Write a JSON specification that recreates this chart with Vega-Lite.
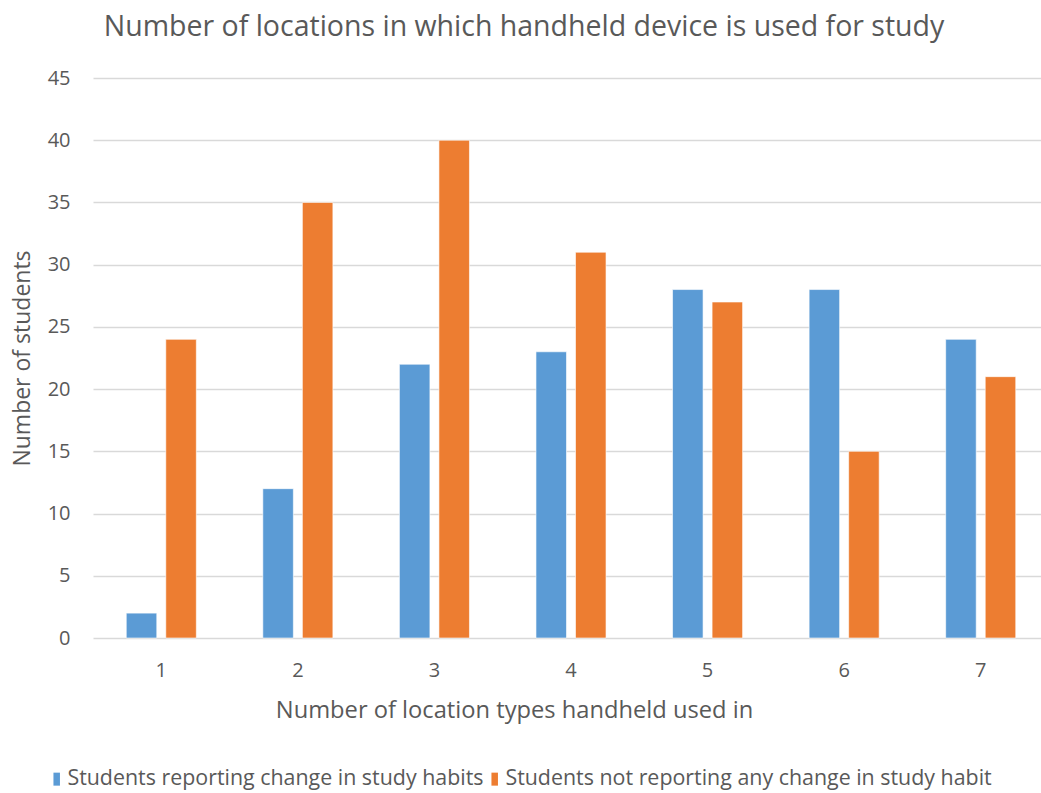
{
  "$schema": "https://vega.github.io/schema/vega-lite/v6.json",
  "autosize": "none",
  "width": 948,
  "height": 560,
  "padding": {"left": 93, "top": 78, "right": 0, "bottom": 155},
  "background": "white",
  "config": {"view": {"stroke": null}, "font": "Open Sans"},
  "title": {
    "text": "Number of locations in which handheld device is used for study",
    "fontSize": 28.5,
    "fontWeight": "normal",
    "color": "#595959",
    "anchor": "middle",
    "frame": "group",
    "dx": -43,
    "offset": 27
  },
  "data": {
    "values": [
      {"n": 1, "series": "Students reporting change in study habits", "value": 2},
      {"n": 1, "series": "Students not reporting any change in study habit", "value": 24},
      {"n": 2, "series": "Students reporting change in study habits", "value": 12},
      {"n": 2, "series": "Students not reporting any change in study habit", "value": 35},
      {"n": 3, "series": "Students reporting change in study habits", "value": 22},
      {"n": 3, "series": "Students not reporting any change in study habit", "value": 40},
      {"n": 4, "series": "Students reporting change in study habits", "value": 23},
      {"n": 4, "series": "Students not reporting any change in study habit", "value": 31},
      {"n": 5, "series": "Students reporting change in study habits", "value": 28},
      {"n": 5, "series": "Students not reporting any change in study habit", "value": 27},
      {"n": 6, "series": "Students reporting change in study habits", "value": 28},
      {"n": 6, "series": "Students not reporting any change in study habit", "value": 15},
      {"n": 7, "series": "Students reporting change in study habits", "value": 24},
      {"n": 7, "series": "Students not reporting any change in study habit", "value": 21}
    ]
  },
  "mark": {"type": "bar", "stroke": "white", "strokeOpacity": 0.6, "strokeWidth": 1},
  "encoding": {
    "x": {
      "field": "n",
      "type": "ordinal",
      "scale": {"range": [0, 956], "paddingInner": 0.487, "paddingOuter": 0.2435},
      "axis": {
        "title": "Number of location types handheld used in",
        "labelAngle": 0,
        "labelFontSize": 20,
        "labelColor": "#595959",
        "labelPadding": 22,
        "ticks": false,
        "domain": false,
        "titleFontSize": 23.7,
        "titleFontWeight": "normal",
        "titleColor": "#595959",
        "titleX": 421,
        "titleY": 72,
        "titleAlign": "center",
        "titleBaseline": "middle"
      }
    },
    "xOffset": {
      "field": "series",
      "sort": ["Students reporting change in study habits", "Students not reporting any change in study habit"],
      "scale": {"paddingInner": 0.228, "paddingOuter": 0}
    },
    "y": {
      "field": "value",
      "type": "quantitative",
      "scale": {"domain": [0, 45], "nice": false},
      "axis": {
        "values": [0, 5, 10, 15, 20, 25, 30, 35, 40, 45],
        "title": "Number of students",
        "labelFontSize": 20,
        "labelColor": "#595959",
        "labelPadding": 23,
        "ticks": false,
        "domain": false,
        "gridColor": "#d9d9d9",
        "gridWidth": 1.3,
        "titleFontSize": 23,
        "titleFontWeight": "normal",
        "titleColor": "#595959",
        "titleX": -71,
        "titleY": 280,
        "titleAngle": -90,
        "titleAlign": "center",
        "titleBaseline": "middle"
      }
    },
    "color": {
      "field": "series",
      "type": "nominal",
      "sort": ["Students reporting change in study habits", "Students not reporting any change in study habit"],
      "scale": {"range": ["#5B9BD5", "#ED7D31"]},
      "legend": {
        "title": null,
        "orient": "none",
        "direction": "horizontal",
        "legendX": -47,
        "legendY": 690,
        "symbolType": "M-0.5,-1H0.5V1H-0.5Z",
        "symbolSize": 169,
        "symbolStrokeWidth": 0,
        "labelFontSize": 21.4,
        "labelColor": "#595959",
        "labelOffset": 0,
        "labelLimit": 700,
        "columnPadding": 0
      }
    }
  }
}
